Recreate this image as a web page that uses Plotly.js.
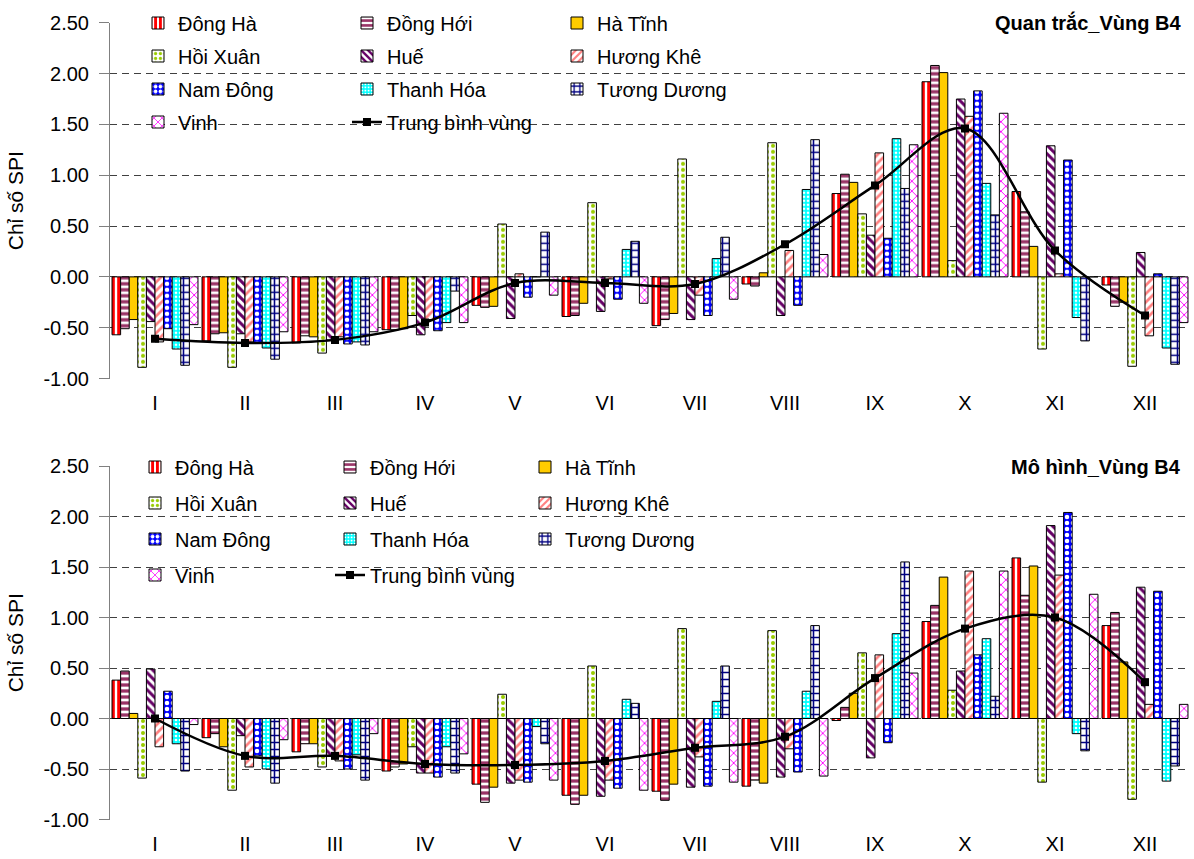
<!DOCTYPE html>
<html><head><meta charset="utf-8">
<script src="https://cdn.plot.ly/plotly-3.0.1.min.js"></script>
<style>html,body{margin:0;padding:0;background:#fff}#chart{width:1194px;height:859px}</style>
</head><body><div id="chart"></div>
<script>
// ---------- DATA ----------
const months = ['I','II','III','IV','V','VI','VII','VIII','IX','X','XI','XII'];
const stations = ['Đông Hà','Đồng Hới','Hà Tĩnh','Hồi Xuân','Huế','Hương Khê','Nam Đông','Thanh Hóa','Tương Dương','Vinh'];
const avgName = 'Trung bình vùng';
const panelTitles = ['Quan trắc_Vùng B4','Mô hình_Vùng B4'];
const yTickVals = [-1,-0.5,0,0.5,1,1.5,2,2.5];
const yTickText = ['-1.00','-0.50','0.00','0.50','1.00','1.50','2.00','2.50'];

// Quan trắc (observed)
const obsDongHa     = [-0.57,-0.63,-0.65,-0.52,-0.28,-0.39,-0.48,-0.07,0.82,1.92,0.84,-0.08];
const obsDongHoi    = [-0.51,-0.56,-0.58,-0.52,-0.30,-0.38,-0.42,-0.09,1.01,2.08,0.64,-0.29];
const obsHaTinh     = [-0.42,-0.55,-0.59,-0.51,-0.29,-0.26,-0.36,0.04,0.93,2.01,0.30,-0.25];
const obsHoiXuan    = [-0.89,-0.89,-0.75,-0.38,0.52,0.73,1.16,1.32,0.62,0.16,-0.71,-0.88];
const obsHue        = [-0.44,-0.56,-0.62,-0.57,-0.41,-0.34,-0.42,-0.38,0.41,1.75,1.29,0.24];
const obsHuongKhe   = [-0.64,-0.64,-0.59,-0.42,0.03,-0.02,-0.18,0.26,1.22,1.58,0.03,-0.58];
const obsNamDong    = [-0.51,-0.65,-0.66,-0.53,-0.20,-0.22,-0.38,-0.28,0.38,1.83,1.15,0.03];
const obsThanhHoa   = [-0.71,-0.70,-0.64,-0.45,0.00,0.27,0.18,0.86,1.36,0.92,-0.40,-0.70];
const obsTuongDuong = [-0.87,-0.81,-0.67,-0.14,0.44,0.35,0.39,1.35,0.87,0.61,-0.63,-0.86];
const obsVinh       = [-0.47,-0.54,-0.54,-0.45,-0.18,-0.26,-0.22,0.22,1.30,1.61,0.00,-0.45];
const obsAvg        = [-0.61,-0.65,-0.62,-0.45,-0.06,-0.06,-0.07,0.32,0.90,1.46,0.26,-0.38];

// Mô hình (model)
const modDongHa     = [0.38,-0.19,-0.33,-0.52,-0.65,-0.76,-0.72,-0.67,-0.02,0.96,1.59,0.92];
const modDongHoi    = [0.47,-0.15,-0.25,-0.48,-0.83,-0.85,-0.81,-0.61,0.11,1.12,1.22,1.05];
const modHaTinh     = [0.05,-0.28,-0.25,-0.45,-0.68,-0.76,-0.65,-0.64,0.25,1.40,1.51,0.56];
const modHoiXuan    = [-0.59,-0.71,-0.48,-0.28,0.24,0.52,0.89,0.87,0.65,0.28,-0.63,-0.80];
const modHue        = [0.49,-0.17,-0.37,-0.54,-0.64,-0.77,-0.68,-0.58,-0.39,0.47,1.91,1.30];
const modHuongKhe   = [-0.28,-0.48,-0.42,-0.54,-0.61,-0.61,-0.38,-0.30,0.63,1.46,1.42,0.14];
const modNamDong    = [0.27,-0.37,-0.50,-0.58,-0.63,-0.69,-0.67,-0.53,-0.24,0.63,2.04,1.26];
const modThanhHoa   = [-0.25,-0.50,-0.36,-0.28,-0.08,0.19,0.17,0.27,0.84,0.79,-0.15,-0.62];
const modTuongDuong = [-0.52,-0.64,-0.61,-0.54,-0.25,0.15,0.52,0.92,1.55,0.22,-0.32,-0.47];
const modVinh       = [-0.06,-0.21,-0.15,-0.35,-0.61,-0.71,-0.63,-0.57,0.45,1.46,1.23,0.14];
const modAvg        = [0.00,-0.37,-0.37,-0.45,-0.46,-0.42,-0.29,-0.18,0.40,0.89,1.00,0.36];

const obsSeries = [obsDongHa,obsDongHoi,obsHaTinh,obsHoiXuan,obsHue,obsHuongKhe,obsNamDong,obsThanhHoa,obsTuongDuong,obsVinh];
const modSeries = [modDongHa,modDongHoi,modHaTinh,modHoiXuan,modHue,modHuongKhe,modNamDong,modThanhHoa,modTuongDuong,modVinh];

// ---------- STYLE ----------
const FONT = '"Liberation Sans", Arial, Helvetica, sans-serif';
const barStyles = [
  {color:'#FF0000', pattern:{shape:'|', fgcolor:'#FF0000', bgcolor:'#FFFFFF', size:6, solidity:0.6}},
  {color:'#993366', pattern:{shape:'-', fgcolor:'#993366', bgcolor:'#FFFFFF', size:6, solidity:0.55}},
  {color:'#FFCC00', pattern:{shape:''}},
  {color:'#99CC00', pattern:{shape:'.', fgcolor:'#99CC00', bgcolor:'#FFFFFF', size:6, solidity:0.35}},
  {color:'#660066', pattern:{shape:'\\', fgcolor:'#660066', bgcolor:'#FFFFFF', size:6, solidity:0.5}},
  {color:'#FF8080', pattern:{shape:'/', fgcolor:'#FF8080', bgcolor:'#FFFFFF', size:6, solidity:0.45}},
  {color:'#0000FF', pattern:{shape:'.', fgcolor:'#FFFFFF', bgcolor:'#0000FF', size:6, solidity:0.45}},
  {color:'#00FFFF', pattern:{shape:'.', fgcolor:'#FFFFFF', bgcolor:'#00FFFF', size:4, solidity:0.35}},
  {color:'#000080', pattern:{shape:'+', fgcolor:'#000080', bgcolor:'#FFFFFF', size:7, solidity:0.4}},
  {color:'#FF00FF', pattern:{shape:'x', fgcolor:'#FF00FF', bgcolor:'#FFFFFF', size:7, solidity:0.25}}
];
const colOf = [0,1,2,0,1,2,0,1,2,0];
const avgCol = 1;

const W = 1194, H = 859, ML = 110, MR = 4;
const PW = W - ML - MR;
const px2x = p => (p - ML) / PW;
const py2y = p => 1 - p / H;

const domTop = [py2y(378.5), py2y(22.8)];
const domBot = [py2y(819.5), py2y(466)];
const yRange = [-1, 2.5];
const zeroPos = d => d[0] + (0 - yRange[0]) / (yRange[1] - yRange[0]) * (d[1] - d[0]);

const legendNames = [['legend','legend2','legend3'],['legend4','legend5','legend6']];

const traces = [];
[obsSeries, modSeries].forEach((series, p) => {
  const xa = p === 0 ? 'x' : 'x2', ya = p === 0 ? 'y' : 'y2';
  series.forEach((vals, i) => {
    const st = barStyles[i];
    traces.push({
      type:'bar', x:months, y:vals, name:stations[i], xaxis:xa, yaxis:ya,
      legend: legendNames[p][colOf[i]], legendgroup:'g'+p+'_'+i,
      marker:{color:st.color, pattern:st.pattern, line:{color:'#000000', width:1}},
      hovertemplate:'%{x}: %{y:.2f}<extra>'+stations[i]+'</extra>'
    });
  });
  traces.push({
    type:'scatter', mode:'lines+markers', x:months, y:(p===0?obsAvg:modAvg), name:avgName,
    xaxis:xa, yaxis:ya, legend: legendNames[p][avgCol], legendgroup:'g'+p+'_avg',
    line:{color:'#000000', width:2.5, shape:'spline', smoothing:1},
    marker:{symbol:'square', size:8, color:'#000000'}
  });
});

const yAxisBase = dom => ({
  domain: dom, range: yRange, tickmode:'array', tickvals:yTickVals, ticktext:yTickText,
  showgrid:true, gridcolor:'#404040', gridwidth:1, griddash:'7px,5px',
  zeroline:false, showline:true, linecolor:'#808080', linewidth:1,
  ticks:'outside', ticklen:10, tickcolor:'#808080', tickwidth:1, ticklabelstandoff:6,
  tickfont:{size:20, family:FONT, color:'#000'},
  automargin:true,
  title:{text:'Chỉ số SPI', standoff:14, font:{size:21, family:FONT, color:'#000'}},
  fixedrange:true
});
const xAxisBase = anchor => ({
  anchor: anchor, type:'category', categoryorder:'array', categoryarray:months,
  range:[-0.5, 11.5], showgrid:false, showline:false, zeroline:false, ticks:'',
  tickfont:{size:20, family:FONT, color:'#000'}, ticklabelstandoff:10, fixedrange:true
});
const zeroAxis = (over, pos) => ({
  overlaying: over, anchor:'free', position: pos, type:'linear', range:[-0.5, 11.5],
  tickmode:'linear', tick0:-0.5, dtick:1, ticks:'outside', ticklen:6, tickcolor:'#000', tickwidth:1,
  showticklabels:false, showgrid:false, zeroline:false, showline:true, linecolor:'#000', linewidth:1.5,
  fixedrange:true
});

const legendBase = (xp, yp, gap) => ({
  x: px2x(xp), y: py2y(yp), xanchor:'left', yanchor:'top', orientation:'v',
  bgcolor:'rgba(0,0,0,0)', borderwidth:0, traceorder:'grouped', tracegroupgap:gap,
  font:{size:20, family:FONT, color:'#000'}
});

const layout = {
  width: W, height: H, margin:{l:ML, r:MR, t:0, b:0, autoexpand:false},
  paper_bgcolor:'#fff', plot_bgcolor:'rgba(0,0,0,0)',
  font:{family:FONT, color:'#000', size:20},
  barmode:'group', bargap:0.045, bargroupgap:0,
  showlegend:true, hovermode:'closest',
  xaxis: xAxisBase('y'),
  yaxis: yAxisBase(domTop),
  xaxis2: xAxisBase('y2'),
  yaxis2: yAxisBase(domBot),
  xaxis3: zeroAxis('x', zeroPos(domTop)),
  xaxis4: zeroAxis('x2', zeroPos(domBot)),
  legend:  legendBase(138, 3.5, 4),
  legend2: legendBase(347, 3.5, 4),
  legend3: legendBase(557, 3.5, 4),
  legend4: legendBase(135, 447.5, 7),
  legend5: legendBase(330, 447.5, 7),
  legend6: legendBase(525, 447.5, 7),
  shapes:[
    {type:'rect', xref:'paper', yref:'paper', x0:px2x(111.5), x1:px2x(752), y0:py2y(140), y1:py2y(0),
     fillcolor:'#ffffff', line:{width:0}, layer:'between'},
    {type:'rect', xref:'paper', yref:'paper', x0:px2x(111.5), x1:px2x(706), y0:py2y(590), y1:py2y(445),
     fillcolor:'#ffffff', line:{width:0}, layer:'between'}
  ],
  annotations:[
    {text:'<b>'+panelTitles[0]+'</b>', xref:'paper', yref:'paper', x:px2x(1184), y:py2y(23),
     xanchor:'right', yanchor:'middle', showarrow:false, bgcolor:'#ffffff', borderpad:2,
     font:{size:20, family:FONT, color:'#000'}},
    {text:'<b>'+panelTitles[1]+'</b>', xref:'paper', yref:'paper', x:px2x(1184), y:py2y(467),
     xanchor:'right', yanchor:'middle', showarrow:false, bgcolor:'#ffffff', borderpad:2,
     font:{size:20, family:FONT, color:'#000'}}
  ]
};

Plotly.newPlot('chart', traces, layout, {displayModeBar:false, staticPlot:false});
</script></body></html>
